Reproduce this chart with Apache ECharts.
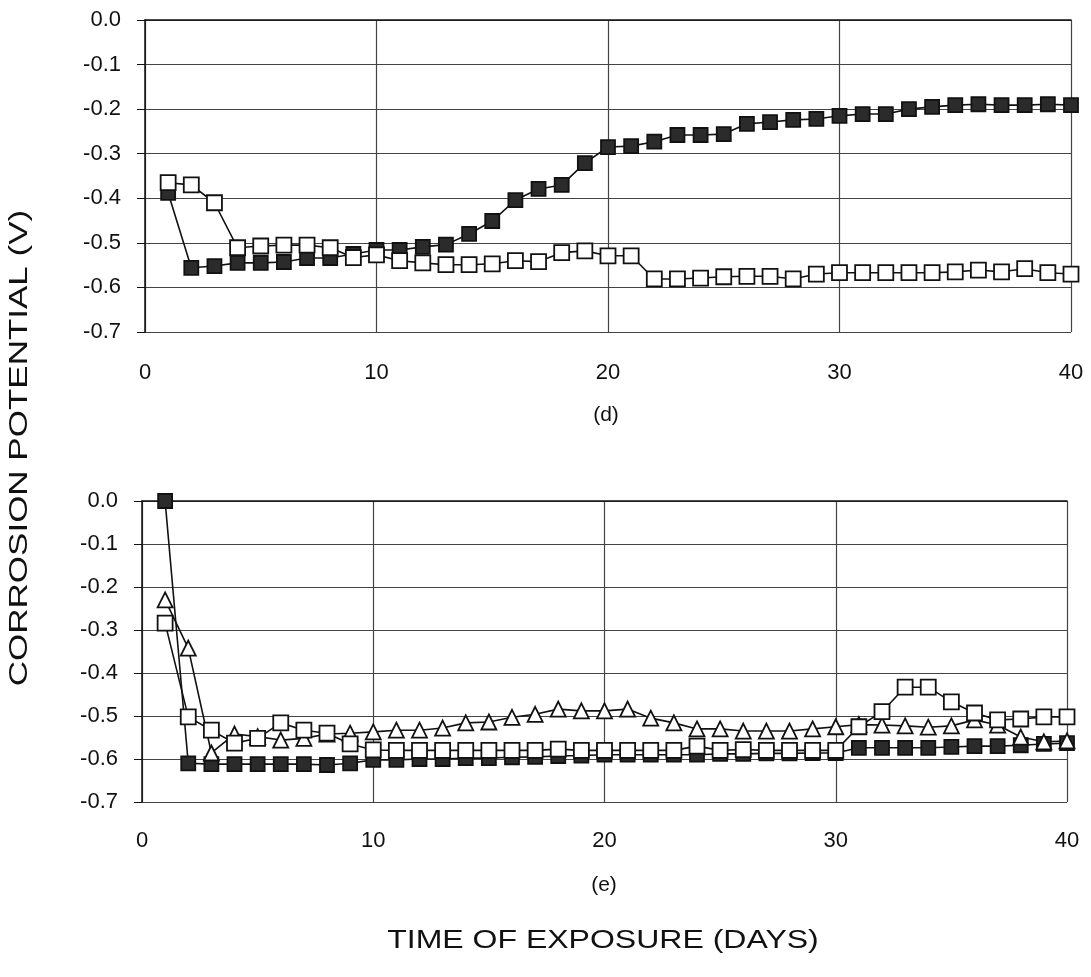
<!DOCTYPE html>
<html>
<head>
<meta charset="utf-8">
<script src="https://cdn.jsdelivr.net/npm/echarts@6/dist/echarts.min.js"></script>
<style>
  html, body { margin: 0; padding: 0; background: #fff; }
  #chart { width: 1091px; height: 977px; }
</style>
</head>
<body>
<div id="chart"></div>
<script>
// Exposure time, days
const days = [1,2,3,4,5,6,7,8,9,10,11,12,13,14,15,16,17,18,19,20,
              21,22,23,24,25,26,27,28,29,30,31,32,33,34,35,36,37,38,39,40];

// Panel (d): corrosion potential, V
const dFilled = [-0.388,-0.556,-0.552,-0.545,-0.545,-0.543,-0.534,-0.534,-0.525,-0.516,
                 -0.516,-0.509,-0.504,-0.480,-0.451,-0.404,-0.379,-0.370,-0.321,-0.285,
                 -0.283,-0.273,-0.258,-0.258,-0.256,-0.233,-0.229,-0.224,-0.222,-0.215,
                 -0.211,-0.211,-0.200,-0.195,-0.191,-0.189,-0.191,-0.191,-0.189,-0.191];
const dOpen   = [-0.365,-0.370,-0.410,-0.511,-0.507,-0.505,-0.505,-0.511,-0.533,-0.527,
                 -0.540,-0.545,-0.549,-0.549,-0.547,-0.540,-0.542,-0.522,-0.518,-0.529,
                 -0.529,-0.581,-0.581,-0.579,-0.576,-0.575,-0.575,-0.581,-0.570,-0.567,
                 -0.567,-0.567,-0.567,-0.567,-0.565,-0.561,-0.565,-0.558,-0.567,-0.570];

// Panel (e): corrosion potential, V
const eFilled = [0.000,-0.610,-0.612,-0.612,-0.612,-0.612,-0.612,-0.614,-0.610,-0.602,
                 -0.602,-0.600,-0.600,-0.598,-0.598,-0.596,-0.595,-0.593,-0.592,-0.590,
                 -0.590,-0.590,-0.590,-0.590,-0.588,-0.588,-0.587,-0.587,-0.586,-0.586,
                 -0.574,-0.574,-0.574,-0.574,-0.572,-0.570,-0.570,-0.568,-0.565,-0.563];
const eOpen   = [-0.284,-0.502,-0.533,-0.563,-0.552,-0.516,-0.533,-0.540,-0.565,-0.579,
                 -0.580,-0.580,-0.580,-0.580,-0.580,-0.580,-0.580,-0.577,-0.580,-0.580,
                 -0.580,-0.580,-0.580,-0.570,-0.580,-0.578,-0.580,-0.580,-0.580,-0.580,
                 -0.525,-0.490,-0.433,-0.433,-0.467,-0.493,-0.509,-0.507,-0.502,-0.502];
const eTri    = [-0.230,-0.342,-0.586,-0.542,-0.548,-0.556,-0.552,-0.542,-0.540,-0.537,
                 -0.533,-0.533,-0.528,-0.516,-0.514,-0.503,-0.496,-0.484,-0.488,-0.488,
                 -0.484,-0.505,-0.516,-0.530,-0.530,-0.535,-0.535,-0.535,-0.530,-0.525,
                 -0.520,-0.521,-0.523,-0.526,-0.523,-0.509,-0.521,-0.549,-0.560,-0.558];

// Axis ticks
const xTicks = { min: 0, max: 40, interval: 10 };
const yTicks = { min: -0.7, max: 0, interval: 0.1 };

const FONT = 'Liberation Sans, Arial, sans-serif';
const pairs = (ys) => days.map((d, i) => [d, ys[i]]);

function xAxis(gridIndex, margin) {
  return {
    type: 'value', gridIndex,
    min: xTicks.min, max: xTicks.max, interval: xTicks.interval,
    axisLine: { show: true, lineStyle: { color: '#111', width: 1.5 } },
    axisTick: { show: false },
    axisLabel: { color: '#111', fontSize: 22, fontFamily: FONT, margin },
    splitLine: { show: true, lineStyle: { color: '#444', width: 1.2 } }
  };
}
function yAxis(gridIndex) {
  return {
    type: 'value', gridIndex,
    min: yTicks.min, max: yTicks.max, interval: yTicks.interval,
    axisLine: { show: true, onZero: false, lineStyle: { color: '#111', width: 1.5 } },
    axisTick: { show: true, length: 8, lineStyle: { color: '#111' } },
    axisLabel: { color: '#111', fontSize: 22, fontFamily: FONT, margin: 24,
                 formatter: (v) => v.toFixed(1) },
    splitLine: { show: true, lineStyle: { color: '#444', width: 1.2 } }
  };
}

function series(name, idx, data, symbol, fill, size) {
  return {
    name, type: 'line', xAxisIndex: idx, yAxisIndex: idx,
    data: pairs(data), symbol, symbolSize: size,
    showAllSymbol: true, animation: false,
    lineStyle: { color: '#111', width: 1.6 },
    itemStyle: { color: fill, borderColor: '#111', borderWidth: 1.8 }
  };
}

const chart = echarts.init(document.getElementById('chart'), null, { renderer: 'canvas' });
chart.setOption({
  backgroundColor: '#fff',
  animation: false,
  grid: [
    { left: 145, right: 20, top: 20, height: 312 },
    { left: 142, right: 24, top: 501, height: 301 }
  ],
  xAxis: [xAxis(0, 30), xAxis(1, 28)],
  yAxis: [yAxis(0), yAxis(1)],
  series: [
    series('d filled', 0, dFilled, 'rect', '#2b2b2b', 14),
    series('d open', 0, dOpen, 'rect', '#fff', 15),
    series('e filled', 1, eFilled, 'rect', '#2b2b2b', 14),
    series('e triangle', 1, eTri, 'triangle', '#fff', 15),
    series('e open', 1, eOpen, 'rect', '#fff', 15)
  ],
  graphic: [
    { type: 'text', x: 606, y: 415,
      style: { text: '(d)', font: '21px ' + FONT, fill: '#111',
               textAlign: 'center', textVerticalAlign: 'middle' } },
    { type: 'text', x: 604, y: 885,
      style: { text: '(e)', font: '21px ' + FONT, fill: '#111',
               textAlign: 'center', textVerticalAlign: 'middle' } },
    { type: 'text', x: 603, y: 941, scaleX: 1.28,
      style: { text: 'TIME OF EXPOSURE (DAYS)', font: '25px ' + FONT, fill: '#111',
               textAlign: 'center', textVerticalAlign: 'middle' } },
    { type: 'text', x: 20, y: 448, rotation: Math.PI / 2, scaleX: 1.4,
      style: { text: 'CORROSION POTENTIAL (V)', font: '25px ' + FONT, fill: '#111',
               textAlign: 'center', textVerticalAlign: 'middle' } }
  ]
});
</script>
</body>
</html>
